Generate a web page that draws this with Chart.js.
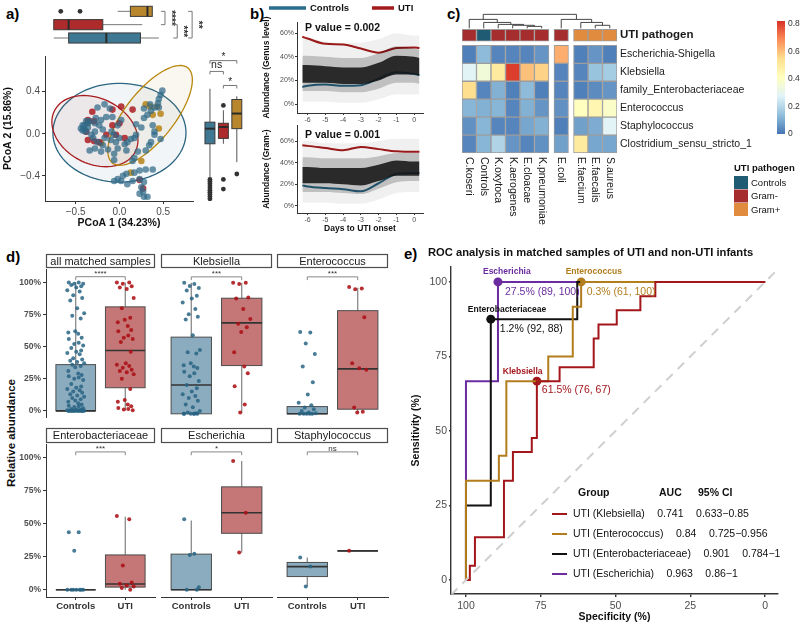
<!DOCTYPE html>
<html>
<head>
<meta charset="utf-8">
<title>UTI microbiome figure</title>
<script src="https://cdn.jsdelivr.net/npm/chart.js@4.4.1/dist/chart.umd.min.js"></script>
<style>
  body { margin: 0; background: #fff; }
  #fig { position: relative; width: 800px; height: 627px; overflow: hidden; background: #fff; font-family: "Liberation Sans", Arial, sans-serif; }
  #fig canvas { position: absolute; }
  .tag { position: absolute; font-weight: bold; font-size: 15px; color: #000; line-height: 1; }
  .ylab { position: absolute; font-weight: bold; font-size: 11.5px; color: #111; white-space: nowrap; transform: translate(-50%, -50%) rotate(-90deg); }
</style>
</head>
<body>
<div id="fig">
  <div class="tag" style="left:6px;top:6px">a)</div>
  <div class="tag" style="left:250px;top:6px">b)</div>
  <div class="tag" style="left:447px;top:6px">c)</div>
  <div class="tag" style="left:6px;top:249px">d)</div>
  <div class="tag" style="left:404px;top:246px">e)</div>
  <div class="ylab" style="left:11px;top:433px">Relative abundance</div>
</div>
<script>
// ---------- a) PCoA ----------
const ctrlPc1 = [0.49,0.47,0.45,0.44,0.40,0.35,0.45,0.28,0.36,0.32, 0.28,0.19,0.25,0.38,0.40,0.40,0.47,0.36,0.34,0.30,
  0.21,0.17,0.15,0.08,0.09,0.17,0.19,0.13,0.06,0.00, -0.04,-0.06,-0.09,-0.02,0.02,-0.08,-0.11,-0.17,-0.25,-0.27,
  -0.21,-0.15,-0.23,-0.19,-0.28,-0.32,-0.36,-0.42,-0.44,-0.40, -0.38,-0.34,-0.28,-0.30,-0.25,-0.19,-0.34,-0.28,-0.21,-0.13,
  -0.02,-0.06,-0.17,-0.10,0.30,0.38,0.23,0.17,0.08,0.04, -0.02,-0.06,0.02,0.09,0.15,0.23,0.28,0.25,0.27,0.28,
  0.32,0.23,-0.06,-0.40,-0.38,-0.36,-0.42];
const ctrlPc2 = [0.41,0.37,0.33,0.29,0.25,0.28,0.25,0.24,0.22,0.18, 0.15,0.09,0.06,0.08,0.02,-0.01,-0.05,-0.08,-0.11,-0.16,
  -0.17,-0.23,-0.26,-0.16,-0.08,-0.04,-0.01,-0.05,-0.10,-0.04, -0.08,-0.01,0.02,0.08,0.13,0.16,0.24,0.28,0.25,0.15,
  0.13,0.16,0.08,0.04,0.02,-0.01,0.06,0.08,0.05,0.04, 0.12,0.12,0.10,-0.04,-0.08,-0.11,-0.16,-0.14,-0.17,-0.15,
  -0.14,-0.19,-0.04,-0.06,-0.34,-0.34,-0.35,-0.37,-0.38,-0.40, -0.43,-0.45,-0.45,-0.48,-0.45,-0.43,-0.46,-0.51,-0.55,-0.60,
  -0.60,-0.57,-0.25,0.08,0.02,0.10,0.03];
const gnegPc1 = [-0.31,-0.36,-0.29,-0.08,0.02,0.15,-0.08,0.00,-0.15,-0.04,-0.36,-0.38,-0.29,0.06,0.23,0.27,-0.23];
const gnegPc2 = [0.21,0.13,0.12,0.23,0.26,0.23,0.08,0.10,-0.01,-0.01,-0.06,0.02,-0.07,-0.04,-0.44,-0.52,-0.08];
const gposPc1 = [0.30,0.35,0.43,0.47,0.38,0.45,0.13,0.25,-0.21,-0.36];
const gposPc2 = [0.28,0.26,0.26,0.19,0.18,0.05,-0.37,-0.26,-0.09,0.11];

// confidence ellipses: centre and two half-axis vectors, data units (Controls, Gram-, Gram+)
const ellCentre = [[0.00, 0.01], [-0.28, 0.025], [0.35, 0.175]];
const ellAxisU = [[0.76, 0], [0.452, -0.209], [0.426, 0.455]];
const ellAxisV = [[0, 0.47], [-0.193, -0.267], [0.227, -0.136]];

// marginal boxplots [min, q1, median, q3, max]
const pcoaGroups = ['Controls', 'Gram-', 'Gram+'];
const pc1Stats = [[-0.75,-0.58,-0.15,0.24,0.45], [-0.75,-0.75,-0.58,-0.19,0.26], [-0.02,0.125,0.32,0.375,0.375]];
const pc1Outliers = [[], [], [-0.67, -0.45]];
const pc2Stats = [[-0.42,-0.11,0.03,0.09,0.40], [-0.11,-0.06,0.045,0.08,0.20], [-0.28,0.03,0.17,0.30,0.33]];
const pc2Outliers = [[-0.44,-0.46,-0.48,-0.50,-0.52,-0.54,-0.56,-0.58,-0.60,-0.62], [0.245,-0.44,-0.53], [-0.39]];
const pc1Signif = [[2, 1, 0.52, '****'], [1, 0, 0.66, '***'], [2, 0, 0.83, '**']];
const pc2Signif = [[0, 2, 0.66, '*'], [0, 1, 0.56, 'ns'], [1, 2, 0.43, '*']];

// ---------- b) trajectories ----------
const days = [-6.3, -6, -5, -4, -3, -2, -1, 0, 0.3];
const genusUti  = [57, 55.5, 51, 50.5, 47, 43.5, 47.5, 48, 47.5];
const genusCtrl = [14.5, 15.5, 16.5, 15.5, 16, 21.5, 27, 25.5, 24.5];
const genusCoreLo = [18, 18, 18, 17, 17, 20, 25, 25, 24];
const genusCoreHi = [33, 33, 32, 31, 31, 35, 41, 40, 39];
const genusMidLo = [11, 11, 11, 10, 10, 13, 18, 18, 17];
const genusMidHi = [41, 41, 40, 39, 39, 43, 49, 47, 46];
const genusOutLo = [2, 2, 2, 1, 1, 4, 8, 8, 8];
const genusOutHi = [56, 56, 53, 52, 52, 55, 60, 58, 58];
const gramUti  = [56, 55.5, 53.5, 51.5, 54.5, 52.5, 50.5, 50, 50];
const gramCtrl = [19, 18, 16.5, 15.5, 13.5, 21, 29.5, 30.5, 30.5];
const gramCoreLo = [21, 21, 21, 20, 19, 23, 28, 28, 28];
const gramCoreHi = [36, 36, 35, 35, 35, 38, 42, 41, 41];
const gramMidLo = [13, 13, 13, 12, 11, 16, 22, 23, 23];
const gramMidHi = [45, 45, 44, 44, 44, 46, 49, 49, 49];
const gramOutLo = [3, 3, 3, 2, 2, 6, 12, 13, 13];
const gramOutHi = [60, 60, 58, 58, 58, 60, 62, 62, 62];

// ---------- c) heatmap ----------
const heatCols = ['C.koseri','Controls','K.oxytoca','K.aerogenes','E.cloacae','K.pneumoniae','E.coli','E.faecium','E.faecalis','S.aureus'];
const heatColPos = [0, 1, 2, 3, 4, 5, 6.35, 7.7, 8.7, 9.7];
const heatGroup = ['Gram-','Controls','Gram-','Gram-','Gram-','Gram-','Gram-','Gram+','Gram+','Gram+'];
const heatRows = ['Escherichia-Shigella','Klebsiella','family_Enterobacteriaceae','Enterococcus','Staphylococcus','Clostridium_sensu_stricto_1'];
const heatEsch  = [0.02, 0.13, 0.03, 0.03, 0.03, 0.06, 0.63, 0.02, 0.06, 0.02];
const heatKleb  = [0.28, 0.35, 0.50, 0.80, 0.60, 0.57, 0.03, 0.03, 0.15, 0.17];
const heatEntb  = [0.55, 0.03, 0.11, 0.02, 0.13, 0.02, 0.03, 0.02, 0.04, 0.06];
const heatEntc  = [0.12, 0.11, 0.12, 0.03, 0.11, 0.06, 0.05, 0.41, 0.45, 0.39];
const heatStaph = [0.05, 0.12, 0.03, 0.03, 0.09, 0.11, 0.02, 0.08, 0.10, 0.28];
const heatClost = [0.03, 0.12, 0.19, 0.06, 0.03, 0.05, 0.08, 0.50, 0.09, 0.09];
const heatValues = [heatEsch, heatKleb, heatEntb, heatEntc, heatStaph, heatClost];
// dendrogram merges: [node a, node b, height]; leaves are 0..9, merged nodes 10..
const dendroMerges = [[4,5,0.11],[3,10,0.17],[2,11,0.22],[1,12,0.33],[0,13,0.5],[8,9,0.17],[7,15,0.33],[6,16,0.5],[14,17,0.78]];
const pathoNames = ['Controls', 'Gram-', 'Gram+'];
const colorbarTicks = [0, 0.2, 0.4, 0.6, 0.8];

// ---------- d) facets ----------
const facetNames = ['all matched samples','Klebsiella','Enterococcus','Enterobacteriaceae','Escherichia','Staphylococcus'];
const facetSignif = ['****','***','***','***','*','ns'];
const facetCtrlStats = [[0,0,0,36,100],[0,0,22,58.5,100],[0,0,0,5.5,5.5],[0,0,0,0,0],[0,0,0,27,52.5],[2.5,10,17.5,20.7,24.4]];
const facetUtiStats  = [[0.5,18,47,81,100],[0.8,36.8,69.4,88.2,100],[1,3.5,34.3,78.7,96.2],[0,2,4.3,26.4,55.4],[28.2,42.8,58.4,78,97.7],[29.5,29.5,29.5,29.5,29.5]];
const allCtrl = [100,100,99,99,98,97,96,94,93,90,88,86,80,76,74,72,62,61,60,57,56,53,52,51,49,47,46,45,44,41,40,39,38,37,36,35,34,31,29,28,27,26,25,24,21,19,18,17,16,15,14,13,12,11,10,9,8,7,6,5,4,3.5,3,2,1.5,1,1,0.5,0.5,0,0,0,0,0,0,0,0,0,0,0,0,0,0,0,0];
const allUti = [100,100,99,97,96,95,88,80,72.5,71,69,66,63,62,58.6,57,56,53.6,46,37,36,35,33.6,32,31,30,28.6,25,17,8.5,7,5,3.5,2.2,1.5,1,0.5];
const klebCtrl = [100,99,97.5,96,94,90,88,85,80,76,74,72,60,48.6,47,46,38.6,37,36,35,32,31,28.6,25,22,19.5,17,15,13.5,12,10,7,5,2.2,1,0.5,0,0,0,0,0,0];
const klebUti = [100,100,99,88.7,88,80,72.4,68.7,66,62.4,47,36,31,21,7,1];
const entcCtrl = [62.4,62,53.6,45.6,36,24,14.8,8.5,6.5,4.8,3.5,2.2,1,0.5,0,0,0,0,0];
const entcUti = [96.7,95.7,95,73.7,38.6,34.8,33.6,4.8,1.5,1];
const entbCtrl = [43.6,43.6,29.5,0,0,0,0,0,0,0];
const entbUti = [56,53.4,18.4,5.5,4.5,3.3,2.5,1.3,0];
const eschCtrl = [53.4,27.2,26.4,1.8,0,0];
const eschUti = [97.7,58.4,28.2];
const staphCtrl = [24.4,17.6,2.5];
const staphUti = [29.5];
const facetCtrlPts = [allCtrl, klebCtrl, entcCtrl, entbCtrl, eschCtrl, staphCtrl];
const facetUtiPts = [allUti, klebUti, entcUti, entbUti, eschUti, staphUti];
const jitter = [-0.14,0.06,-0.03,0.15,-0.09,0.11,0.01,-0.17,0.08,-0.05,0.13,-0.11,0.03,0.17,-0.07,0.1,-0.01,-0.15,0.05,0.12];

// ---------- e) ROC ----------
const rocKlebSpec = [100,98.7,98.7,97,97,87.3,87.3,84.3,84.3,78,78,76.3,76.3,68.7,68.7,57.3,57.3,55.7,55.7,49.6,49.6,41.7,41.7,36.7,36.7,0];
const rocKlebSens = [0,0,4.8,4.8,14.3,14.3,33.3,33.3,42.9,42.9,47.6,47.6,66.7,66.7,71.4,71.4,81,81,85.7,85.7,90.5,90.5,95.2,95.2,100,100];
const rocEntcSpec = [100,100,89,89,86.5,86.5,72.5,72.5,64.3,64.3,61.5,61.5,0];
const rocEntcSens = [0,33.3,33.3,41.7,41.7,66.7,66.7,75,75,91.7,91.7,100,100];
const rocEntbSpec = [100,100,91.7,91.7,62.8,62.8,0];
const rocEntbSens = [0,25,25,87.5,87.5,100,100];
const rocEschSpec = [100,100,89.3,89.3,0];
const rocEschSens = [0,66.7,66.7,100,100];
const rocNames = ['Klebsiella','Enterococcus','Enterobacteriaceae','Escherichia'];
const rocBestSpec = [76.3, 61.5, 91.7, 89.3];
const rocBestSens = [66.7, 100, 87.5, 100];
const rocBestText = ['61.5% (76, 67)', '0.3% (61, 100)', '1.2% (92, 88)', '27.5% (89, 100)'];
const rocGroups = ['UTI (Klebsiella)','UTI (Enterococcus)','UTI (Enterobacteriaceae)','UTI (Escherichia)'];
const rocAuc = ['0.741','0.84','0.901','0.963'];
const rocCi = ['0.633\u22120.85','0.725\u22120.956','0.784\u22121','0.86\u22121'];

// ================= drawing =================
const FONT = '"Liberation Sans", Arial, sans-serif';
Chart.defaults.font.family = FONT;
Chart.defaults.animation = false;
Chart.defaults.responsive = false;
Chart.defaults.maintainAspectRatio = false;
Chart.defaults.events = [];
Chart.defaults.plugins.legend.display = false;
Chart.defaults.plugins.tooltip.enabled = false;

const fig = document.getElementById('fig');
function addCanvas(x, y, w, h) {
  const c = document.createElement('canvas');
  c.width = w; c.height = h;
  c.style.left = x + 'px'; c.style.top = y + 'px';
  c.style.width = w + 'px'; c.style.height = h + 'px';
  fig.appendChild(c);
  return c;
}
function pairs(xs, ys) { return xs.map((x, i) => ({ x: x, y: ys[i] })); }
function fnt(size, weight) { return (weight || 'normal') + ' ' + size + 'px ' + FONT; }
const minus = s => String(s).replace('-', '\u2212');

function classicAxis(o) {
  const shown = o.display !== false;
  return {
    type: 'linear', display: shown, min: o.min, max: o.max, reverse: !!o.reverse, position: o.position,
    afterFit: shown ? o.fit : undefined,
    afterBuildTicks: o.ticks ? (s => { s.ticks = o.ticks.map(v => ({ value: v })); }) : undefined,
    grid: { drawOnChartArea: false, drawTicks: true, tickLength: o.tickLen || 3, color: '#333', lineWidth: o.lw || 1 },
    border: { display: true, color: '#333', width: o.lw || 1 },
    ticks: { callback: o.fmt || (v => v), font: { size: o.tickSize || 10, weight: o.tickWeight || 'normal' },
      color: o.tickColor || '#4d4d4d', padding: o.tickPad == null ? 2 : o.tickPad, autoSkip: false, maxRotation: 0 },
    title: o.title ? { display: true, text: o.title, font: { size: o.titleSize || 10.5, weight: 'bold' }, color: '#111', padding: { top: 2, bottom: 4 } } : { display: false }
  };
}

// generic box: st = [min, q1, med, q3, max]
function drawBox(ctx, posScale, valScale, pos, half, st, sty, horiz) {
  const P = v => posScale.getPixelForValue(v), V = v => valScale.getPixelForValue(v);
  const xy = (val, p) => horiz ? [val, p] : [p, val];
  const line = (v1, p1, v2, p2) => { const a = xy(v1, p1), b = xy(v2, p2); ctx.beginPath(); ctx.moveTo(a[0], a[1]); ctx.lineTo(b[0], b[1]); ctx.stroke(); };
  const pc = P(pos), pa = P(pos - half), pb = P(pos + half);
  ctx.save();
  ctx.strokeStyle = sty.whisker; ctx.lineWidth = sty.whiskerWidth || 1;
  if (st[0] !== st[1]) line(V(st[0]), pc, V(st[1]), pc);
  if (st[4] !== st[3]) line(V(st[3]), pc, V(st[4]), pc);
  const a = xy(V(st[1]), pa), b = xy(V(st[3]), pb);
  const x0 = Math.min(a[0], b[0]), y0 = Math.min(a[1], b[1]);
  const w = Math.abs(b[0] - a[0]), h = Math.abs(b[1] - a[1]);
  ctx.fillStyle = sty.fill; ctx.fillRect(x0, y0, w, h);
  ctx.strokeStyle = sty.border; ctx.lineWidth = sty.borderWidth || 1; ctx.strokeRect(x0, y0, w, h);
  ctx.strokeStyle = sty.median; ctx.lineWidth = sty.medianWidth || 2;
  line(V(st[2]), pa, V(st[2]), pb);
  ctx.restore();
}

const groupFill = ['#3f7893', '#ad2b2b', '#b8862d'];
const groupPoint = ['rgba(47,106,136,0.72)', 'rgba(170,22,28,0.82)', 'rgba(184,134,30,0.88)'];
const ellStroke = ['#2c6580', '#a81d22', '#b8860b'];
const ellFill = ['rgba(60,115,145,0.07)', 'rgba(170,40,40,0.07)', 'rgba(190,150,60,0.08)'];

// a) main scatter
new Chart(addCanvas(0, 48, 200, 190), {
  type: 'scatter',
  data: { datasets: [
    { data: pairs(ctrlPc1, ctrlPc2), backgroundColor: groupPoint[0], pointRadius: 3.3, borderWidth: 0 },
    { data: pairs(gnegPc1, gnegPc2), backgroundColor: groupPoint[1], pointRadius: 3.3, borderWidth: 0 },
    { data: pairs(gposPc1, gposPc2), backgroundColor: groupPoint[2], pointRadius: 3.3, borderWidth: 0 }
  ] },
  options: {
    layout: { padding: { left: 0, top: 2, right: 7, bottom: 5 } },
    scales: {
      x: classicAxis({ min: -0.85, max: 0.84, ticks: [-0.5, 0, 0.5], fmt: v => minus(v.toFixed(1)), title: 'PCoA 1 (34.23%)', fit: s => { s.height = 32; } }),
      y: classicAxis({ min: -0.64, max: 0.74, ticks: [-0.4, 0, 0.4], fmt: v => minus(v.toFixed(1)), title: 'PCoA 2 (15.86%)', fit: s => { s.width = 45; } })
    }
  },
  plugins: [{
    id: 'ellipses',
    beforeDatasetsDraw(chart) {
      const ctx = chart.ctx, xs = chart.scales.x, ys = chart.scales.y;
      ellCentre.forEach((c, i) => {
        const cx = xs.getPixelForValue(c[0]), cy = ys.getPixelForValue(c[1]);
        const ux = xs.getPixelForValue(c[0] + ellAxisU[i][0]) - cx, uy = ys.getPixelForValue(c[1] + ellAxisU[i][1]) - cy;
        const vx = xs.getPixelForValue(c[0] + ellAxisV[i][0]) - cx, vy = ys.getPixelForValue(c[1] + ellAxisV[i][1]) - cy;
        ctx.save();
        ctx.beginPath();
        for (let k = 0; k <= 90; k++) {
          const t = k / 90 * Math.PI * 2;
          const px = cx + ux * Math.cos(t) + vx * Math.sin(t), py = cy + uy * Math.cos(t) + vy * Math.sin(t);
          k ? ctx.lineTo(px, py) : ctx.moveTo(px, py);
        }
        ctx.closePath();
        ctx.fillStyle = ellFill[i]; ctx.fill();
        ctx.strokeStyle = ellStroke[i]; ctx.lineWidth = 1.3; ctx.stroke();
        ctx.restore();
      });
    }
  }]
});

// a) top marginal boxplots (PCoA 1)
const pc1Row = [2.55, 1.55, 0.55];
new Chart(addCanvas(0, 0, 210, 48), {
  type: 'scatter',
  data: { datasets: pc1Outliers.map((o, g) => ({
    data: o.map(v => ({ x: v, y: pc1Row[g] })), backgroundColor: '#333', pointRadius: 2.4, borderWidth: 0 })) },
  options: {
    layout: { padding: { left: 45, top: 2, right: 17, bottom: 0 } },
    scales: { x: { type: 'linear', display: false, min: -0.85, max: 0.84 }, y: { type: 'linear', display: false, min: 0, max: 3, reverse: true } }
  },
  plugins: [{
    id: 'pc1box',
    beforeDatasetsDraw(chart) {
      const ctx = chart.ctx, xs = chart.scales.x, ys = chart.scales.y;
      pc1Stats.forEach((st, g) => drawBox(ctx, ys, xs, pc1Row[g], 0.38, st,
        { fill: groupFill[g], border: '#3a3a3a', whisker: '#777', median: '#2b2b2b', medianWidth: 2 }, true));
      ctx.save();
      ctx.strokeStyle = '#777'; ctx.lineWidth = 1; ctx.fillStyle = '#333';
      pc1Signif.forEach(b => {
        const x = xs.getPixelForValue(b[2]), y1 = ys.getPixelForValue(pc1Row[b[0]]), y2 = ys.getPixelForValue(pc1Row[b[1]]);
        ctx.beginPath(); ctx.moveTo(x - 4, y1); ctx.lineTo(x, y1); ctx.lineTo(x, y2); ctx.lineTo(x - 4, y2); ctx.stroke();
        ctx.save(); ctx.translate(x + 6, (y1 + y2) / 2); ctx.rotate(Math.PI / 2);
        ctx.font = fnt(10, 'bold'); ctx.textAlign = 'center'; ctx.textBaseline = 'middle';
        ctx.fillText(b[3], 0, 0); ctx.restore();
      });
      ctx.restore();
    }
  }]
});

// a) right marginal boxplots (PCoA 2)
const pc2Pos = [0.74, 1.74, 2.74];
new Chart(addCanvas(196, 48, 60, 190), {
  type: 'scatter',
  data: { datasets: pc2Outliers.map((o, g) => ({
    data: o.map(v => ({ x: pc2Pos[g], y: v })), backgroundColor: '#333', pointRadius: 2.4, borderWidth: 0 })) },
  options: {
    layout: { padding: { left: 0, top: 2, right: 0, bottom: 37 } },
    scales: { x: { type: 'linear', display: false, min: 0, max: 3.87 }, y: { type: 'linear', display: false, min: -0.64, max: 0.74 } }
  },
  plugins: [{
    id: 'pc2box',
    beforeDatasetsDraw(chart) {
      const ctx = chart.ctx, xs = chart.scales.x, ys = chart.scales.y;
      pc2Stats.forEach((st, g) => drawBox(ctx, xs, ys, pc2Pos[g], 0.37, st,
        { fill: groupFill[g], border: '#3a3a3a', whisker: '#555', median: '#2b2b2b', medianWidth: 2 }, false));
      ctx.save();
      ctx.strokeStyle = '#777'; ctx.lineWidth = 1; ctx.fillStyle = '#222';
      pc2Signif.forEach(b => {
        const x1 = xs.getPixelForValue(pc2Pos[b[0]]), x2 = xs.getPixelForValue(pc2Pos[b[1]]), y = ys.getPixelForValue(b[2]);
        ctx.beginPath(); ctx.moveTo(x1, y + 3); ctx.lineTo(x1, y); ctx.lineTo(x2, y); ctx.lineTo(x2, y + 3); ctx.stroke();
        ctx.font = fnt(b[3] === 'ns' ? 10.5 : 10); ctx.textAlign = 'center'; ctx.textBaseline = 'bottom';
        ctx.fillText(b[3], (x1 + x2) / 2, b[3] === 'ns' ? y - 1 : y + 2);
      });
      ctx.restore();
    }
  }]
});

// b) trajectories
function bandSets(lo, hi, color) {
  return [
    { data: pairs(days, lo), showLine: true, borderWidth: 0, pointRadius: 0, fill: false, cubicInterpolationMode: 'monotone' },
    { data: pairs(days, hi), showLine: true, borderWidth: 0, pointRadius: 0, fill: '-1', backgroundColor: color, cubicInterpolationMode: 'monotone' }
  ];
}
function trajChart(canvas, pad, xh, yTitle, xTitle, core, mid, out, ctrl, uti, yMin, yMax, pText, pDy, legend) {
  new Chart(canvas, {
    type: 'scatter',
    data: { datasets: [].concat(
      bandSets(out[0], out[1], 'rgba(0,0,0,0.06)'),
      bandSets(mid[0], mid[1], 'rgba(0,0,0,0.2)'),
      bandSets(core[0], core[1], 'rgba(28,28,28,0.88)'),
      [{ data: pairs(days, ctrl), showLine: true, borderColor: '#2b6d8c', borderWidth: 2, pointRadius: 0, cubicInterpolationMode: 'monotone' },
       { data: pairs(days, uti), showLine: true, borderColor: '#a31b1b', borderWidth: 2, pointRadius: 0, cubicInterpolationMode: 'monotone' }]) },
    options: {
      layout: { padding: pad },
      scales: {
        x: classicAxis({ min: -6.6, max: 0.5, ticks: [-6, -5, -4, -3, -2, -1, 0], tickSize: 7, tickLen: 2, tickPad: 1,
          title: xTitle, titleSize: 8.5, fit: s => { s.height = xh; } }),
        y: classicAxis({ min: yMin, max: yMax, ticks: [0, 20, 40, 60], fmt: v => v + '%', tickSize: 7, tickLen: 2, tickPad: 1,
          title: yTitle, titleSize: 8.5, fit: s => { s.width = 37; } })
      }
    },
    plugins: [{
      id: 'ptext',
      afterDraw(chart) {
        const ctx = chart.ctx, a = chart.chartArea;
        ctx.save();
        ctx.font = fnt(10.5, 'bold'); ctx.fillStyle = '#111'; ctx.textBaseline = 'middle';
        ctx.fillText(pText, a.left + 8, a.top + pDy);
        if (legend) {
          ctx.lineWidth = 3.5; ctx.lineCap = 'butt';
          ctx.strokeStyle = '#2b6d8c'; ctx.beginPath(); ctx.moveTo(9, 8); ctx.lineTo(46, 8); ctx.stroke();
          ctx.strokeStyle = '#a31b1b'; ctx.beginPath(); ctx.moveTo(112, 8); ctx.lineTo(134, 8); ctx.stroke();
          ctx.font = fnt(9.5, 'bold');
          ctx.fillText('Controls', 50, 8);
          ctx.fillText('UTI', 138, 8);
        }
        ctx.restore();
      }
    }]
  });
}
trajChart(addCanvas(260, 0, 170, 126), { left: 0, top: 22, right: 7, bottom: 0 }, 13,
  'Abundance (Genus level)', null,
  [genusCoreLo, genusCoreHi], [genusMidLo, genusMidHi], [genusOutLo, genusOutHi], genusCtrl, genusUti,
  -7.6, 69.5, 'P value = 0.002', 6, true);
trajChart(addCanvas(260, 120, 170, 118), { left: 0, top: 5, right: 7, bottom: 0 }, 25,
  'Abundance (Gram-)', 'Days to UTI onset',
  [gramCoreLo, gramCoreHi], [gramMidLo, gramMidHi], [gramOutLo, gramOutHi], gramCtrl, gramUti,
  -6.5, 74.6, 'P value = 0.001', 10, false);

// c) heatmap
const palette = ['#4575b4', '#91bfdb', '#e0f3f8', '#ffffbf', '#fee090', '#fc8d59', '#d73027'];
const heatMax = 0.82;
function heatColor(v) {
  const t = Math.max(0, Math.min(1, v / heatMax)) * (palette.length - 1);
  const i = Math.min(palette.length - 2, Math.floor(t)), f = t - i;
  const c0 = parseInt(palette[i].slice(1), 16), c1 = parseInt(palette[i + 1].slice(1), 16);
  const ch = s => Math.round(((c0 >> s) & 255) * (1 - f) + ((c1 >> s) & 255) * f);
  return 'rgb(' + ch(16) + ',' + ch(8) + ',' + ch(0) + ')';
}
const pathoColor = { 'Controls': '#1f5b73', 'Gram-': '#a52d2d', 'Gram+': '#e08b3e' };
const heatCells = [], heatCellColors = [];
heatValues.forEach((row, r) => row.forEach((v, c) => {
  heatCells.push({ x: heatColPos[c], y: [r, r + 1] }); heatCellColors.push(heatColor(v));
}));
heatGroup.forEach((g, c) => { heatCells.push({ x: heatColPos[c], y: [-0.9, -0.23] }); heatCellColors.push(pathoColor[g]); });
const heatTickVals = [-0.565, 0.5, 1.5, 2.5, 3.5, 4.5, 5.5];
const heatTickText = ['UTI pathogen'].concat(heatRows);

new Chart(addCanvas(430, 0, 370, 240), {
  type: 'bar',
  data: { datasets: [{ data: heatCells, backgroundColor: heatCellColors, borderColor: '#9c9c9c', borderWidth: 1, borderSkipped: false,
    barPercentage: 1, categoryPercentage: 1 }] },
  options: {
    layout: { padding: { left: 32, top: 14, right: 23, bottom: 87 } },
    scales: {
      x: { type: 'linear', display: false, min: -0.5, max: 10.2, offset: false },
      y: { type: 'linear', position: 'right', min: -1.75, max: 6, reverse: true,
        afterFit: s => { s.width = 160; },
        afterBuildTicks: s => { s.ticks = heatTickVals.map(v => ({ value: v })); },
        grid: { display: false, drawTicks: false }, border: { display: false },
        ticks: { padding: 3, autoSkip: false, color: '#1a1a1a', callback: (v, i) => heatTickText[i],
          font: c => c.index === 0 ? { size: 11.5, weight: 'bold' } : { size: 10.5 } } }
    }
  },
  plugins: [{
    id: 'heatExtras',
    afterDraw(chart) {
      const ctx = chart.ctx, xs = chart.scales.x, ys = chart.scales.y;
      ctx.save();
      // dendrogram
      const base = -0.95;
      const nodes = heatColPos.map(x => ({ x: x, h: 0 }));
      ctx.strokeStyle = '#333'; ctx.lineWidth = 0.9;
      dendroMerges.forEach(m => {
        const a = nodes[m[0]], b = nodes[m[1]], h = m[2];
        const X = v => xs.getPixelForValue(v), Y = v => ys.getPixelForValue(base - v);
        ctx.beginPath();
        ctx.moveTo(X(a.x), Y(a.h)); ctx.lineTo(X(a.x), Y(h)); ctx.lineTo(X(b.x), Y(h)); ctx.lineTo(X(b.x), Y(b.h));
        ctx.stroke();
        nodes.push({ x: (a.x + b.x) / 2, h: h });
      });
      // column labels, reading top to bottom
      ctx.fillStyle = '#1a1a1a'; ctx.font = fnt(10.5); ctx.textAlign = 'left'; ctx.textBaseline = 'middle';
      heatCols.forEach((name, c) => {
        ctx.save(); ctx.translate(xs.getPixelForValue(heatColPos[c]), ys.getPixelForValue(6) + 4);
        ctx.rotate(Math.PI / 2); ctx.fillText(name, 0, 0); ctx.restore();
      });
      // colour bar
      const cbTop = 21, cbBot = 134, cbX = 347, cbW = 8;
      const grad = ctx.createLinearGradient(0, cbBot, 0, cbTop);
      palette.forEach((p, i) => grad.addColorStop(i / (palette.length - 1), p));
      ctx.fillStyle = grad; ctx.fillRect(cbX, cbTop, cbW, cbBot - cbTop);
      ctx.fillStyle = '#333'; ctx.font = fnt(8.5);
      colorbarTicks.forEach(v => ctx.fillText(v === 0 ? '0' : v.toFixed(1), cbX + cbW + 3, cbBot - v / heatMax * (cbBot - cbTop)));
      // annotation legend
      ctx.fillStyle = '#111'; ctx.font = fnt(9.5, 'bold');
      ctx.fillText('UTI pathogen', 304, 168);
      pathoNames.forEach((n, i) => {
        ctx.fillStyle = pathoColor[n]; ctx.fillRect(304, 176 + i * 13.5, 14, 13);
        ctx.fillStyle = '#111'; ctx.font = fnt(9.5); ctx.fillText(n, 321, 183 + i * 13.5);
      });
      ctx.restore();
    }
  }]
});

// d) facet boxplots
const facetLeft = [46, 161, 277], facetRight = [155, 272, 388];
facetNames.forEach((name, i) => {
  const col = i % 3, row = Math.floor(i / 3);
  const L = facetLeft[col], R = facetRight[col];
  const stripTop = row ? 428 : 254, plotTop = row ? 444 : 269, plotBot = row ? 597 : 423;
  const cx = L - 46, cy = stripTop - 1, xh = row ? 18 : 0, showY = col === 0;
  const cw = R - cx + 4, ch = plotBot - cy + xh + 2;
  const ctrlPts = facetCtrlPts[i].map((v, k) => ({ x: 1 + jitter[k % jitter.length], y: v }));
  const utiPts = facetUtiPts[i].map((v, k) => ({ x: 2 + jitter[(k + 7) % jitter.length], y: v }));
  new Chart(addCanvas(cx, cy, cw, ch), {
    type: 'scatter',
    data: { datasets: [
      { data: ctrlPts, backgroundColor: 'rgba(40,100,132,0.85)', pointRadius: 2, borderWidth: 0 },
      { data: utiPts, backgroundColor: 'rgba(172,16,22,0.88)', pointRadius: 2, borderWidth: 0 }
    ] },
    options: {
      layout: { padding: { left: showY ? 0 : 46, top: plotTop - cy, right: cw - (R - cx), bottom: ch - (plotBot - cy) - xh } },
      scales: {
        x: classicAxis({ display: row === 1, min: 0.4, max: 2.6, ticks: [1, 2], fmt: v => (v === 1 ? 'Controls' : 'UTI'),
          tickSize: 9.5, tickWeight: 'bold', tickColor: '#333', tickPad: 1, fit: s => { s.height = xh; } }),
        y: classicAxis({ display: showY, min: -5.5, max: 110.5, ticks: [0, 25, 50, 75, 100], fmt: v => v + '%',
          tickSize: 8.5, tickWeight: 'bold', tickPad: 2, fit: s => { s.width = 46; } })
      }
    },
    plugins: [{
      id: 'facetBoxes',
      beforeDatasetsDraw(chart) {
        const ctx = chart.ctx, xs = chart.scales.x, ys = chart.scales.y;
        drawBox(ctx, xs, ys, 1, 0.4, facetCtrlStats[i], { fill: 'rgba(61,117,146,0.6)', border: '#4d4d4d', whisker: '#808080', whiskerWidth: 1.2, median: '#333', medianWidth: 1.6 }, false);
        drawBox(ctx, xs, ys, 2, 0.4, facetUtiStats[i], { fill: 'rgba(158,26,26,0.6)', border: '#4d4d4d', whisker: '#808080', whiskerWidth: 1.2, median: '#333', medianWidth: 1.6 }, false);
        const x1 = xs.getPixelForValue(1), x2 = xs.getPixelForValue(2), y = ys.getPixelForValue(104.5), yt = ys.getPixelForValue(102);
        ctx.save();
        ctx.strokeStyle = '#888'; ctx.lineWidth = 1;
        ctx.beginPath(); ctx.moveTo(x1, yt); ctx.lineTo(x1, y); ctx.lineTo(x2, y); ctx.lineTo(x2, yt); ctx.stroke();
        ctx.fillStyle = '#333'; ctx.font = fnt(8); ctx.textAlign = 'center'; ctx.textBaseline = 'bottom';
        ctx.fillText(facetSignif[i], (x1 + x2) / 2, y + 1);
        ctx.restore();
      },
      afterDraw(chart) {
        const ctx = chart.ctx, a = chart.chartArea;
        ctx.save();
        ctx.fillStyle = '#fff'; ctx.fillRect(a.left, 1, a.right - a.left, plotTop - cy - 2);
        ctx.strokeStyle = '#4d4d4d'; ctx.lineWidth = 1.2; ctx.strokeRect(a.left + 0.5, 1.5, a.right - a.left - 1, plotTop - cy - 3);
        ctx.fillStyle = '#1a1a1a'; ctx.font = fnt(11); ctx.textAlign = 'center'; ctx.textBaseline = 'middle';
        ctx.fillText(name, (a.left + a.right) / 2, (plotTop - cy) / 2 + 0.5);
        ctx.restore();
      }
    }]
  });
});

// e) ROC
const rocColors = ['#a3161b', '#b27d1c', '#111111', '#6a2ca0'];
const rocSpec = [rocKlebSpec, rocEntcSpec, rocEntbSpec, rocEschSpec];
const rocSens = [rocKlebSens, rocEntcSens, rocEntbSens, rocEschSens];
const rocNameOffset = [[-34, -10], [-15.5, -10], [-23, -10], [-15, -10]];
const rocTextOffset = [[5, 9], [5.5, 10], [9, 10], [7, 10]];
new Chart(addCanvas(400, 240, 400, 387), {
  type: 'scatter',
  data: { datasets: [
    { data: pairs([105, -5], [-5, 105]), showLine: true, borderColor: '#cfcfcf', borderWidth: 2, borderDash: [9, 7], pointRadius: 0 }
  ].concat(rocSpec.map((s, i) => ({ data: pairs(s, rocSens[i]), showLine: true, borderColor: rocColors[i], borderWidth: 2, pointRadius: 0 })))
   .concat(rocNames.map((n, i) => ({ data: [{ x: rocBestSpec[i], y: rocBestSens[i] }], backgroundColor: rocColors[i], pointRadius: 4.5, borderWidth: 0 }))) },
  options: {
    layout: { padding: { left: 8, top: 27, right: 22, bottom: 0 } },
    scales: {
      x: classicAxis({ min: -4.3, max: 105, reverse: true, ticks: [100, 75, 50, 25, 0], tickSize: 10.5, tickPad: 3, lw: 1.4,
        title: 'Specificity (%)', fit: s => { s.height = 33; } }),
      y: classicAxis({ min: -4.7, max: 105, ticks: [0, 25, 50, 75, 100], tickSize: 10.5, tickLen: 2, tickPad: 2, lw: 1.4,
        title: 'Sensitivity (%)', fit: s => { s.width = 43; } })
    }
  },
  plugins: [{
    id: 'rocExtras',
    afterDraw(chart) {
      const ctx = chart.ctx, xs = chart.scales.x, ys = chart.scales.y;
      ctx.save();
      ctx.fillStyle = '#111'; ctx.font = fnt(11.2, 'bold'); ctx.textBaseline = 'middle'; ctx.textAlign = 'left';
      ctx.fillText('ROC analysis in matched samples of UTI and non-UTI infants', 28, 13);
      rocNames.forEach((n, i) => {
        const mx = xs.getPixelForValue(rocBestSpec[i]), my = ys.getPixelForValue(rocBestSens[i]);
        ctx.fillStyle = rocColors[i];
        ctx.font = fnt(8.5, 'bold'); ctx.fillText(n, mx + rocNameOffset[i][0], my + rocNameOffset[i][1]);
        ctx.font = fnt(10.5); ctx.fillText(rocBestText[i], mx + rocTextOffset[i][0], my + rocTextOffset[i][1]);
      });
      // legend table
      ctx.fillStyle = '#111'; ctx.font = fnt(10.5, 'bold');
      ctx.fillText('Group', 178, 253); ctx.fillText('AUC', 259, 253); ctx.fillText('95% CI', 298, 253);
      rocGroups.forEach((g, i) => {
        const y = 274 + i * 20;
        ctx.strokeStyle = rocColors[i]; ctx.lineWidth = 2;
        ctx.beginPath(); ctx.moveTo(152, y); ctx.lineTo(167, y); ctx.stroke();
        ctx.fillStyle = '#111'; ctx.font = fnt(10.5);
        let x = 173;
        ctx.fillText(g, x, y); x += ctx.measureText(g).width + 12.5;
        ctx.fillText(rocAuc[i], x, y); x += ctx.measureText(rocAuc[i]).width + 12.5;
        ctx.fillText(rocCi[i], x, y);
      });
      ctx.restore();
    }
  }]
});
</script>
</body>
</html>
